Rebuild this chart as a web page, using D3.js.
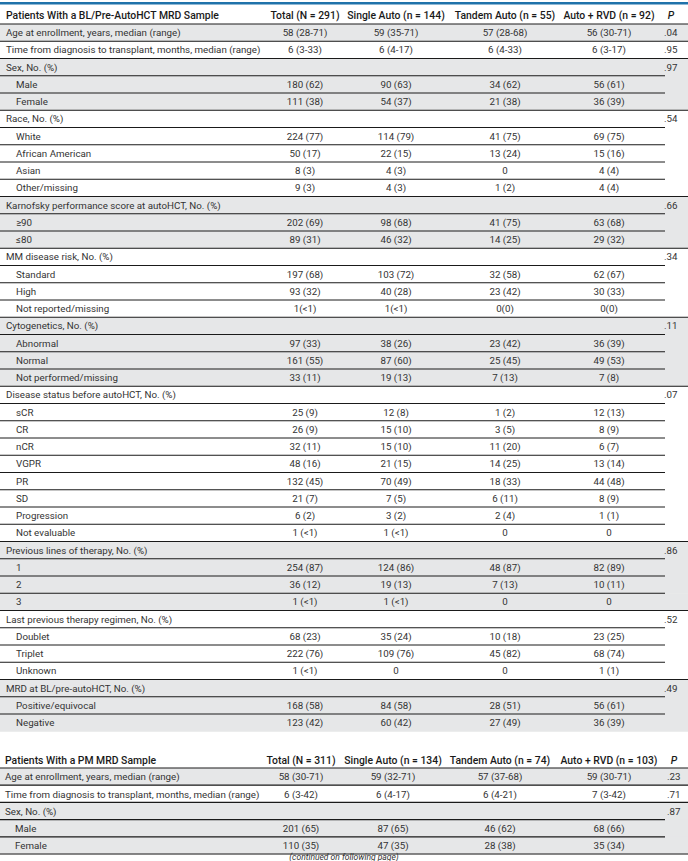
<!DOCTYPE html>
<html>
<head>
<meta charset="utf-8">
<script src="https://cdn.jsdelivr.net/npm/d3@7"></script>
<style>
  body { margin: 0; background: #fff; }
</style>
</head>
<body>
<div id="table"></div>
<script>
// ---- table 1: patients with a BL/pre-autoHCT MRD sample ----
const blTitle = "Patients With a BL/Pre-AutoHCT MRD Sample";
const blHeaders = ["Total (N = 291)", "Single Auto (n = 144)", "Tandem Auto (n = 55)", "Auto + RVD (n = 92)"];
// 0 = single row, 1 = group heading, 2 = group item
const blLevel = [0, 0, 1, 2, 2, 1, 2, 2, 2, 2, 1, 2, 2, 1, 2, 2, 2, 1, 2, 2, 2, 1, 2, 2, 2, 2, 2, 2, 2, 2, 1, 2, 2, 2, 1, 2, 2, 2, 1, 2, 2];
const blLabels = [
    "Age at enrollment, years, median (range)",
    "Time from diagnosis to transplant, months, median (range)",
    "Sex, No. (%)", "Male", "Female",
    "Race, No. (%)", "White", "African American", "Asian", "Other/missing",
    "Karnofsky performance score at autoHCT, No. (%)", "≥90", "≤80",
    "MM disease risk, No. (%)", "Standard", "High", "Not reported/missing",
    "Cytogenetics, No. (%)", "Abnormal", "Normal", "Not performed/missing",
    "Disease status before autoHCT, No. (%)", "sCR", "CR", "nCR", "VGPR", "PR", "SD", "Progression", "Not evaluable",
    "Previous lines of therapy, No. (%)", "1", "2", "3",
    "Last previous therapy regimen, No. (%)", "Doublet", "Triplet", "Unknown",
    "MRD at BL/pre-autoHCT, No. (%)", "Positive/equivocal", "Negative"
];
const blTotal = ["58 (28-71)", "6 (3-33)", "", "180 (62)", "111 (38)", "", "224 (77)", "50 (17)", "8 (3)", "9 (3)",
    "", "202 (69)", "89 (31)", "", "197 (68)", "93 (32)", "1(<1)", "", "97 (33)", "161 (55)", "33 (11)",
    "", "25 (9)", "26 (9)", "32 (11)", "48 (16)", "132 (45)", "21 (7)", "6 (2)", "1 (<1)",
    "", "254 (87)", "36 (12)", "1 (<1)", "", "68 (23)", "222 (76)", "1 (<1)", "", "168 (58)", "123 (42)"];
const blSingle = ["59 (35-71)", "6 (4-17)", "", "90 (63)", "54 (37)", "", "114 (79)", "22 (15)", "4 (3)", "4 (3)",
    "", "98 (68)", "46 (32)", "", "103 (72)", "40 (28)", "1(<1)", "", "38 (26)", "87 (60)", "19 (13)",
    "", "12 (8)", "15 (10)", "15 (10)", "21 (15)", "70 (49)", "7 (5)", "3 (2)", "1 (<1)",
    "", "124 (86)", "19 (13)", "1 (<1)", "", "35 (24)", "109 (76)", "0", "", "84 (58)", "60 (42)"];
const blTandem = ["57 (28-68)", "6 (4-33)", "", "34 (62)", "21 (38)", "", "41 (75)", "13 (24)", "0", "1 (2)",
    "", "41 (75)", "14 (25)", "", "32 (58)", "23 (42)", "0(0)", "", "23 (42)", "25 (45)", "7 (13)",
    "", "1 (2)", "3 (5)", "11 (20)", "14 (25)", "18 (33)", "6 (11)", "2 (4)", "0",
    "", "48 (87)", "7 (13)", "0", "", "10 (18)", "45 (82)", "0", "", "28 (51)", "27 (49)"];
const blRvd = ["56 (30-71)", "6 (3-17)", "", "56 (61)", "36 (39)", "", "69 (75)", "15 (16)", "4 (4)", "4 (4)",
    "", "63 (68)", "29 (32)", "", "62 (67)", "30 (33)", "0(0)", "", "36 (39)", "49 (53)", "7 (8)",
    "", "12 (13)", "8 (9)", "6 (7)", "13 (14)", "44 (48)", "8 (9)", "1 (1)", "0",
    "", "82 (89)", "10 (11)", "0", "", "23 (25)", "68 (74)", "1 (1)", "", "56 (61)", "36 (39)"];
const blP = [".04", ".95", ".97", "", "", ".54", "", "", "", "", ".66", "", "", ".34", "", "", "",
    ".11", "", "", "", ".07", "", "", "", "", "", "", "", "", ".86", "", "", "", ".52", "", "", "", ".49", "", ""];

// ---- table 2: patients with a PM MRD sample ----
const pmTitle = "Patients With a PM MRD Sample";
const pmHeaders = ["Total (N = 311)", "Single Auto (n = 134)", "Tandem Auto (n = 74)", "Auto + RVD (n = 103)"];
const pmLevel = [0, 0, 1, 2, 2];
const pmLabels = [
    "Age at enrollment, years, median (range)",
    "Time from diagnosis to transplant, months, median (range)",
    "Sex, No. (%)", "Male", "Female"
];
const pmTotal = ["58 (30-71)", "6 (3-42)", "", "201 (65)", "110 (35)"];
const pmSingle = ["59 (32-71)", "6 (4-17)", "", "87 (65)", "47 (35)"];
const pmTandem = ["57 (37-68)", "6 (4-21)", "", "46 (62)", "28 (38)"];
const pmRvd = ["59 (30-71)", "7 (3-42)", "", "68 (66)", "35 (34)"];
const pmP = [".23", ".71", ".87", "", ""];

const width = 688, height = 861;
const cols = ["total", "single", "tandem", "rvd"];

const svg = d3.select("#table")
    .append("svg")
    .attr("width", width)
    .attr("height", height)
    .style("display", "block");

function toRows(labels, level, total, single, tandem, rvd, p) {
    let block = -1;
    return labels.map((label, i) => {
        if (level[i] !== 2) block++;
        const next = level[i + 1];
        return {
            label, level: level[i], block, p: p[i],
            values: [total[i], single[i], tandem[i], rvd[i]],
            // group headings and inner items get a short rule that stops before the P column
            shortRule: level[i] === 1 || (level[i] === 2 && next === 2)
        };
    });
}

function drawTable(opt) {
    const rows = toRows(...opt.data);
    const g = svg.append("g");

    const y = d3.scaleLinear()
        .domain([0, rows.length])
        .range([opt.bodyTop, opt.bodyTop + rows.length * opt.pitch]);
    const x = d3.scaleOrdinal().domain(cols).range(opt.colX);

    // shading by block
    g.append("g").selectAll("rect")
        .data(rows.filter(r => r.block % 2 === 0))
        .join("rect")
        .attr("x", 0)
        .attr("width", width)
        .attr("y", r => y(rows.indexOf(r)))
        .attr("height", opt.pitch + 0.5)
        .attr("fill", "#e6e7e8");

    // rules under each row
    g.append("g").selectAll("line")
        .data(rows.filter((r, i) => i < rows.length - 1 || opt.closeRule))
        .join("line")
        .attr("x1", 0)
        .attr("x2", r => r.shortRule ? opt.shortEnd : width)
        .attr("y1", r => y(rows.indexOf(r) + 1))
        .attr("y2", r => y(rows.indexOf(r) + 1))
        .attr("stroke", "#1a1a1a")
        .attr("stroke-width", opt.rule);

    // header
    if (opt.topBar) {
        g.append("line")
            .attr("x1", 0).attr("x2", width)
            .attr("y1", opt.topBar).attr("y2", opt.topBar)
            .attr("stroke", "#1f72aa")
            .attr("stroke-width", 2.6);
    }
    g.append("line")
        .attr("x1", 0).attr("x2", width)
        .attr("y1", opt.bodyTop).attr("y2", opt.bodyTop)
        .attr("stroke", "#1a1a1a")
        .attr("stroke-width", opt.rule);

    const head = g.append("g")
        .attr("font-family", opt.font)
        .attr("font-size", opt.headSize)
        .attr("font-weight", opt.headWeight)
        .attr("fill", "#1a1a1a");
    head.append("text")
        .attr("x", opt.labelX)
        .attr("y", opt.headBase)
        .text(opt.title);
    head.selectAll("text.col")
        .data(cols)
        .join("text")
        .attr("class", "col")
        .attr("text-anchor", "middle")
        .attr("x", c => x(c))
        .attr("y", opt.headBase)
        .text((c, i) => opt.headers[i]);
    head.append("text")
        .attr("text-anchor", "middle")
        .attr("font-style", "italic")
        .attr("x", opt.pX + 7)
        .attr("y", opt.headBase)
        .text("P");

    // body
    const body = g.append("g")
        .attr("font-family", opt.font)
        .attr("font-size", opt.bodySize)
        .attr("fill", "#333");
    const rowG = body.selectAll("g.row")
        .data(rows)
        .join("g")
        .attr("class", "row")
        .attr("transform", (r, i) => `translate(0,${y(i) + opt.baseOff})`);
    rowG.append("text")
        .attr("x", r => r.level === 2 ? opt.labelX + opt.indent : opt.labelX)
        .text(r => r.label);
    rowG.selectAll("text.val")
        .data(r => r.values.map((v, i) => ({ v, c: cols[i] })))
        .join("text")
        .attr("class", "val")
        .attr("text-anchor", "middle")
        .attr("x", d => x(d.c))
        .text(d => d.v);
    rowG.append("text")
        .attr("x", opt.pX)
        .text(r => r.p);
}

drawTable({
    data: [blLabels, blLevel, blTotal, blSingle, blTandem, blRvd, blP],
    title: blTitle, headers: blHeaders,
    font: "Roboto, 'Noto Sans', sans-serif",
    headSize: 10.4, headWeight: 500, bodySize: 9.75,
    topBar: 3.2, headBase: 18.8, bodyTop: 24, pitch: 17.25, baseOff: 12.2,
    labelX: 6, indent: 10, colX: [305, 396, 505, 609], pX: 664,
    shortEnd: 665, rule: 1, closeRule: false
});

drawTable({
    data: [pmLabels, pmLevel, pmTotal, pmSingle, pmTandem, pmRvd, pmP],
    title: pmTitle, headers: pmHeaders,
    font: "Roboto, 'Noto Sans', sans-serif",
    headSize: 10.4, headWeight: 500, bodySize: 9.75,
    topBar: null, headBase: 764, bodyTop: 768, pitch: 17.2, baseOff: 12.3,
    labelX: 5, indent: 10, colX: [301, 393, 500, 609], pX: 667,
    shortEnd: 665, rule: 1.2, closeRule: true
});

svg.append("text")
    .attr("x", 344)
    .attr("y", 860)
    .attr("text-anchor", "middle")
    .attr("font-family", "Roboto, sans-serif")
    .attr("font-size", 8.5)
    .attr("font-style", "italic")
    .attr("fill", "#333")
    .text("(continued on following page)");
</script>
</body>
</html>
